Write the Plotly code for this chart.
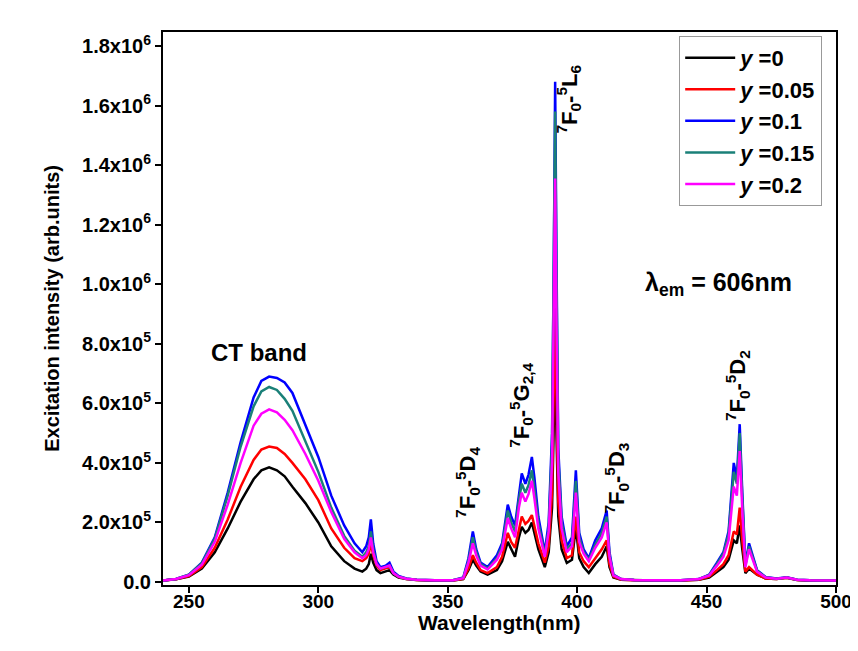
import plotly.graph_objects as go

# Wavelength grid (nm)
wavelength = [
    240, 245, 250, 255, 260, 265, 270, 275, 278, 281,
    284, 287, 290, 295, 300, 305, 310, 314, 317, 318.5,
    319.5, 320.3, 321.2, 322.5, 324, 326, 327.5, 329, 331, 334,
    338, 345, 352, 356, 358, 359.7, 361, 362.7, 365.4, 369,
    371, 373.2, 374.5, 376, 377.5, 378.6, 380, 381.2, 382.5, 383.5,
    385, 387.5, 389, 390.3, 391.0, 391.5, 392.0, 392.7, 394, 396,
    398, 399.5, 400.8, 402.5, 404.5, 407, 409.5, 411.4, 412.5, 414,
    417, 422, 430, 440, 447, 451, 454, 456.5, 458.5, 460.5,
    461.7, 462.8, 463.8, 465, 466.4, 467.8, 469.5, 472.8, 477, 481,
    485, 490, 500,
]

# Excitation intensities, in units of 1e4 (arb. units)
y0_x1e4 = [
    0.5, 0.9, 1.8, 4.5, 10, 18, 27, 34.5, 37.5, 38.5,
    37.5, 35.5, 32, 26.5, 20, 12, 7, 4.5, 3.5, 4.5,
    6, 9.5, 6.5, 4, 3, 3.5, 4, 2.5, 1.5, 1,
    0.7, 0.5, 0.5, 1.0, 4, 7.5, 5.5, 3.5, 2.5, 4,
    7, 13.5, 11, 8.5, 15, 18.5, 16.5, 17.5, 20, 16.5,
    11, 5, 10, 25, 50, 75, 50, 22, 11, 6.4,
    7.5, 18.5, 8, 5, 3, 6, 8.5, 12, 5, 1.5,
    0.8, 0.6, 0.5, 0.5, 0.8, 1.5, 3.5, 5, 7.5, 14,
    13, 19, 11, 3, 4.5, 3.5, 2.5, 1.2, 1.0, 1.4,
    0.7, 0.5, 0.5,
]
y005_x1e4 = [
    0.5, 0.9, 2.0, 5.0, 11.5, 21, 32, 41, 44.5, 45.5,
    45, 43, 40, 34.5, 27.5, 18, 11.5, 8, 7, 8,
    9.5, 13, 9, 5.5, 4, 4.5, 5, 3, 1.7, 1,
    0.7, 0.5, 0.5, 1.1, 4.5, 9, 6.5, 4, 3, 5,
    8.5, 16.5, 13.5, 11.5, 18, 22, 19.5, 20.5, 22.5, 19,
    13, 6.5, 12, 30, 62, 92, 62, 27, 14, 8,
    9, 22, 10, 7, 5, 8, 11, 14, 6, 1.8,
    0.8, 0.6, 0.5, 0.5, 0.8, 1.8, 4, 6, 9, 17,
    16, 25, 14, 3.5, 5, 4, 2.5, 1.2, 1.0, 1.4,
    0.7, 0.5, 0.5,
]
y01_x1e4 = [
    0.5, 1.0, 2.5, 6.5, 15, 30, 47, 62, 67.5, 69,
    68.5, 67, 63.5, 53, 42, 29, 19, 13, 10, 12,
    15, 21, 13, 7, 5, 5.5, 6.5, 3.5, 2, 1.2,
    0.8, 0.6, 0.6, 1.5, 8, 17, 11, 6.5, 5, 9,
    13, 26, 22, 19, 30, 36.5, 33, 36, 42, 35,
    22, 10, 20, 50, 110, 168, 110, 45, 22, 12,
    15, 37.5, 16.5, 11, 8, 14, 18, 24, 10, 2.5,
    1.0, 0.7, 0.6, 0.6, 1.0, 2.5, 6.5, 10, 17, 40,
    35, 53, 30, 6, 13, 9, 4, 1.7, 1.2, 1.6,
    0.8, 0.6, 0.5,
]
y015_x1e4 = [
    0.5, 1.0, 2.5, 6.3, 14.5, 29, 45.5, 59, 64, 65.5,
    64.5, 61.5, 57.5, 47, 37, 25, 15.5, 10.5, 8.5, 10,
    12, 17, 11, 6, 4.5, 5, 5.5, 3, 1.8, 1.1,
    0.8, 0.6, 0.6, 1.4, 7, 15, 10, 6, 4.5, 8,
    12, 24, 20, 17, 27.5, 33, 30, 32.5, 37.5, 31,
    20, 9, 18, 46, 103, 158, 103, 42, 20, 11,
    13, 34, 15, 10, 7.5, 12.5, 16.5, 22, 9, 2.3,
    1.0, 0.7, 0.6, 0.6, 1.0, 2.3, 6, 9.5, 16, 37,
    33, 50, 28, 5.5, 12, 8.5, 3.8, 1.6, 1.1, 1.5,
    0.8, 0.6, 0.5,
]
y02_x1e4 = [
    0.5, 1.0, 2.3, 5.8, 13.5, 26, 40, 52.5, 56.5, 58,
    57, 54.5, 51, 43, 34, 23.5, 14.5, 10, 8, 9,
    11, 15, 10, 6, 4.5, 5, 5.5, 3, 1.8, 1.1,
    0.8, 0.6, 0.6, 1.3, 6.5, 13, 9, 5.5, 4.2, 7.5,
    11, 21.5, 18, 15, 25, 30, 27, 29.5, 34, 28,
    18, 8.5, 17, 40, 88, 135.5, 88, 37, 18, 10,
    12, 30, 13.5, 9.5, 7, 11.5, 15, 20, 8.5, 2.2,
    1.0, 0.7, 0.6, 0.6, 1.0, 2.2, 5.5, 8.5, 14, 32,
    29, 44, 24, 5, 11, 7.5, 3.5, 1.5, 1.1, 1.5,
    0.8, 0.6, 0.5,
]

series_names = ["<i>y</i> =0", "<i>y</i> =0.05", "<i>y</i> =0.1", "<i>y</i> =0.15", "<i>y</i> =0.2"]
series_values = [y0_x1e4, y005_x1e4, y01_x1e4, y015_x1e4, y02_x1e4]
series_colors = ["#000000", "#ff0000", "#0000ff", "#1a8078", "#ff00ff"]

y_tick_vals = [0, 2e5, 4e5, 6e5, 8e5, 1.0e6, 1.2e6, 1.4e6, 1.6e6, 1.8e6]
y_tick_text = ["0.0", "2.0x10<sup>5</sup>", "4.0x10<sup>5</sup>", "6.0x10<sup>5</sup>",
               "8.0x10<sup>5</sup>", "1.0x10<sup>6</sup>", "1.2x10<sup>6</sup>",
               "1.4x10<sup>6</sup>", "1.6x10<sup>6</sup>", "1.8x10<sup>6</sup>"]
x_tick_vals = [250, 300, 350, 400, 450, 500]

FONT = "Liberation Sans, Arial, sans-serif"

fig = go.Figure()
for name, vals, color in zip(series_names, series_values, series_colors):
    fig.add_trace(go.Scatter(
        x=wavelength, y=[v * 1e4 for v in vals], mode="lines", name=name,
        line=dict(color=color, width=2.5),
    ))

axis_common = dict(
    showline=True, linewidth=2, linecolor="black", mirror=True,
    ticks="outside", ticklen=6, tickwidth=2, tickcolor="black",
    showgrid=False, zeroline=False,
)

# the page body adds an 8px offset, so the figure is 8px smaller with margins reduced accordingly
fig.update_layout(
    width=850, height=643,
    margin=dict(l=155, r=22, t=24, b=66, autoexpand=False),
    plot_bgcolor="white", paper_bgcolor="white",
    font=dict(family=FONT, color="black"),
    xaxis=dict(range=[240, 500], tickvals=x_tick_vals, ticklabelstandoff=-8,
               tickfont=dict(family=FONT, size=19, color="black", weight="bold"),
               **axis_common),
    yaxis=dict(range=[-1e4, 1.847e6], tickvals=y_tick_vals, ticktext=y_tick_text,
               tickfont=dict(family=FONT, size=20, color="black", weight="bold"),
               **axis_common),
    legend=dict(
        x=0.767, y=0.993, xanchor="left", yanchor="top",
        bgcolor="white", bordercolor="#999999", borderwidth=1,
        font=dict(family=FONT, size=22, color="black", weight="bold"),
        tracegroupgap=0, itemwidth=50,
    ),
    showlegend=True,
)

ann_font = dict(family=FONT, size=22, color="black", weight="bold")
transitions = [
    (357.8, 3.36e5, "<sup>7</sup>F<sub>0</sub>-<sup>5</sup>D<sub>4</sub>"),
    (378.2, 5.94e5, "<sup>7</sup>F<sub>0</sub>-<sup>5</sup>G<sub>2,4</sub>"),
    (396.8, 1.62e6, "<sup>7</sup>F<sub>0</sub>-<sup>5</sup>L<sub>6</sub>"),
    (415.3, 3.5e5, "<sup>7</sup>F<sub>0</sub>-<sup>5</sup>D<sub>3</sub>"),
    (462.0, 6.6e5, "<sup>7</sup>F<sub>0</sub>-<sup>5</sup>D<sub>2</sub>"),
]
for x, y, t in transitions:
    fig.add_annotation(x=x, y=y, text=t, textangle=-90, showarrow=False,
                       font=ann_font, xanchor="center", yanchor="middle")

fig.add_annotation(x=277, y=7.7e5, text="CT band", showarrow=False,
                   font=dict(family=FONT, size=24, color="black", weight="bold"))
fig.add_annotation(x=454.7, y=1.0e6, text="λ<sub>em</sub> = 606nm", showarrow=False,
                   font=dict(family=FONT, size=25, color="black", weight="bold"))

fig.add_annotation(xref="paper", yref="paper", x=-0.166, y=0.5,
                   xanchor="center", yanchor="middle",
                   text="Excitation intensity (arb.units)", textangle=-90, showarrow=False,
                   font=dict(family=FONT, size=20, color="black", weight="bold"))
fig.add_annotation(xref="paper", yref="paper", x=0.5, y=-0.068,
                   xanchor="center", yanchor="middle",
                   text="Wavelength(nm)", showarrow=False,
                   font=dict(family=FONT, size=21, color="black", weight="bold"))

fig.write_html("out.html")
